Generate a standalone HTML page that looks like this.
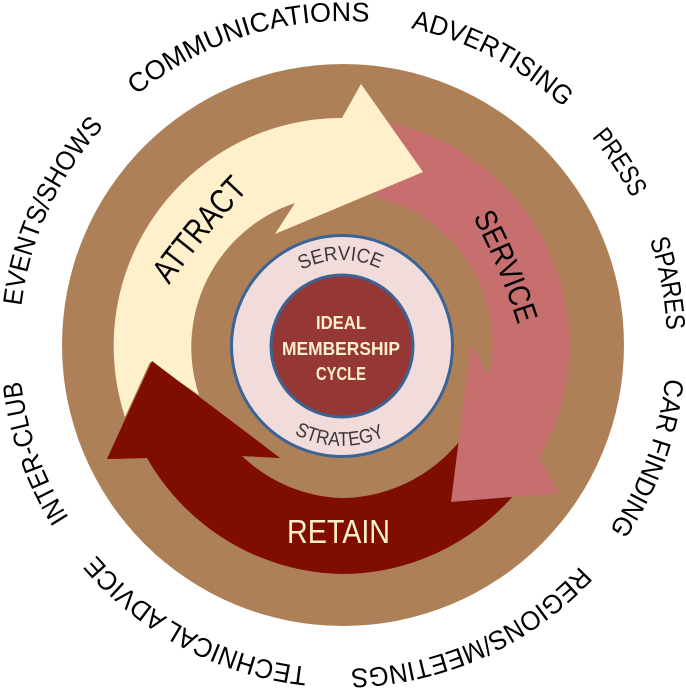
<!DOCTYPE html>
<html><head><meta charset="utf-8"><style>
html,body{margin:0;padding:0;background:#fff;width:686px;height:689px;overflow:hidden}
svg{display:block}
text{font-family:"Liberation Sans",sans-serif}
</style></head><body>
<svg width="686" height="689" viewBox="0 0 686 689" xmlns="http://www.w3.org/2000/svg">
<defs>
<path id="c" d="M343,21 A324,324 0 1 1 342.9,21 Z"/>
<path id="sv" d="M342,260 A86,86 0 1 1 341.9,260 Z"/>
<path id="st" d="M342,446 A100,100 0 1 0 341.9,446 Z"/>
<path id="at" d="M169,285 Q205,235 248,190"/>
<path id="se" d="M473,217 Q500,268 518,325"/>
</defs>
<circle cx="343" cy="345" r="281" fill="#AE8058"/>
<path fill="#C76F6F" d="M390,123 A227,227 0 0 1 539,458 L559,493 L451,502 L471,343 L489,376 A151,151 0 0 0 375,197 Z"/>
<path fill="#800E00" d="M107,459 L152,361 L280,458 L242,456 A151,151 0 0 0 343,498 A153,153 0 0 0 458,443 L513,496 A228,228 0 0 1 343,574 A229,229 0 0 1 147,458 Z" />
<path fill="#C76F6F" d="M471,343 L489,376 A151,151 0 0 0 493,330 L567,330 A226,226 0 0 1 539,458 L559,493 L451,502 Z"/>
<path fill="#FFF0CC" d="M361,84 L423,172 L275,234 L295,203 A152,152 0 0 0 199,395 L150,362 L125,417 A228,228 0 0 1 342,118 Z"/>
<path fill="#800E00" d="M107,459 L152,361 L280,458 L242,456 L200,470 L147,458 Z"/>
<circle cx="342" cy="346" r="110.5" fill="#F2DCDB" stroke="#3A6496" stroke-width="3"/>
<circle cx="342" cy="346" r="71" fill="#953735" stroke="#3A6496" stroke-width="3"/>
<g font-size="27" fill="#000">
<text transform="rotate(-83.1 343 345)"><textPath href="#c" textLength="201" lengthAdjust="spacingAndGlyphs">EVENTS/SHOWS</textPath></text>
<text transform="rotate(-39.6 343 345)"><textPath href="#c" textLength="250" lengthAdjust="spacingAndGlyphs">COMMUNICATIONS</textPath></text>
<text transform="rotate(12.1 343 345)"><textPath href="#c" textLength="174" lengthAdjust="spacingAndGlyphs">ADVERTISING</textPath></text>
<text transform="rotate(50.1 343 345)"><textPath href="#c" textLength="73" lengthAdjust="spacingAndGlyphs">PRESS</textPath></text>
<text transform="rotate(71.1 343 345)"><textPath href="#c" textLength="92" lengthAdjust="spacingAndGlyphs">SPARES</textPath></text>
<text transform="rotate(95.9 343 345)"><textPath href="#c" textLength="163" lengthAdjust="spacingAndGlyphs">CAR FINDING</textPath></text>
<text transform="rotate(133 343 345)"><textPath href="#c" textLength="258" lengthAdjust="spacingAndGlyphs">REGIONS/MEETINGS</textPath></text>
<text transform="rotate(186.3 343 345)"><textPath href="#c" textLength="245" lengthAdjust="spacingAndGlyphs">TECHNICAL ADVICE</textPath></text>
<text transform="rotate(237.8 343 345)"><textPath href="#c" textLength="146" lengthAdjust="spacingAndGlyphs">INTER-CLUB</textPath></text>
</g>
<text font-size="34" fill="#000"><textPath href="#at" textLength="124" lengthAdjust="spacingAndGlyphs">ATTRACT</textPath></text>
<text font-size="31" fill="#000"><textPath href="#se" textLength="117" lengthAdjust="spacingAndGlyphs">SERVICE</textPath></text>
<text x="287" y="543" font-size="33" fill="#FFF0CC" textLength="103" lengthAdjust="spacingAndGlyphs">RETAIN</text>
<text font-size="20" fill="#3B3838" transform="rotate(-28 342 346)"><textPath href="#sv" textLength="81" lengthAdjust="spacingAndGlyphs">SERVICE</textPath></text>
<text font-size="20" fill="#3B3838" transform="rotate(28.4 342 346)"><textPath href="#st" textLength="94" lengthAdjust="spacingAndGlyphs">STRATEGY</textPath></text>
<g font-size="18" font-weight="bold" fill="#FFF0CC" text-anchor="middle">
<text x="341" y="329" textLength="50" lengthAdjust="spacingAndGlyphs">IDEAL</text>
<text x="341" y="355" textLength="118" lengthAdjust="spacingAndGlyphs">MEMBERSHIP</text>
<text x="341" y="380" textLength="50" lengthAdjust="spacingAndGlyphs">CYCLE</text>
</g>
</svg>
</body></html>
